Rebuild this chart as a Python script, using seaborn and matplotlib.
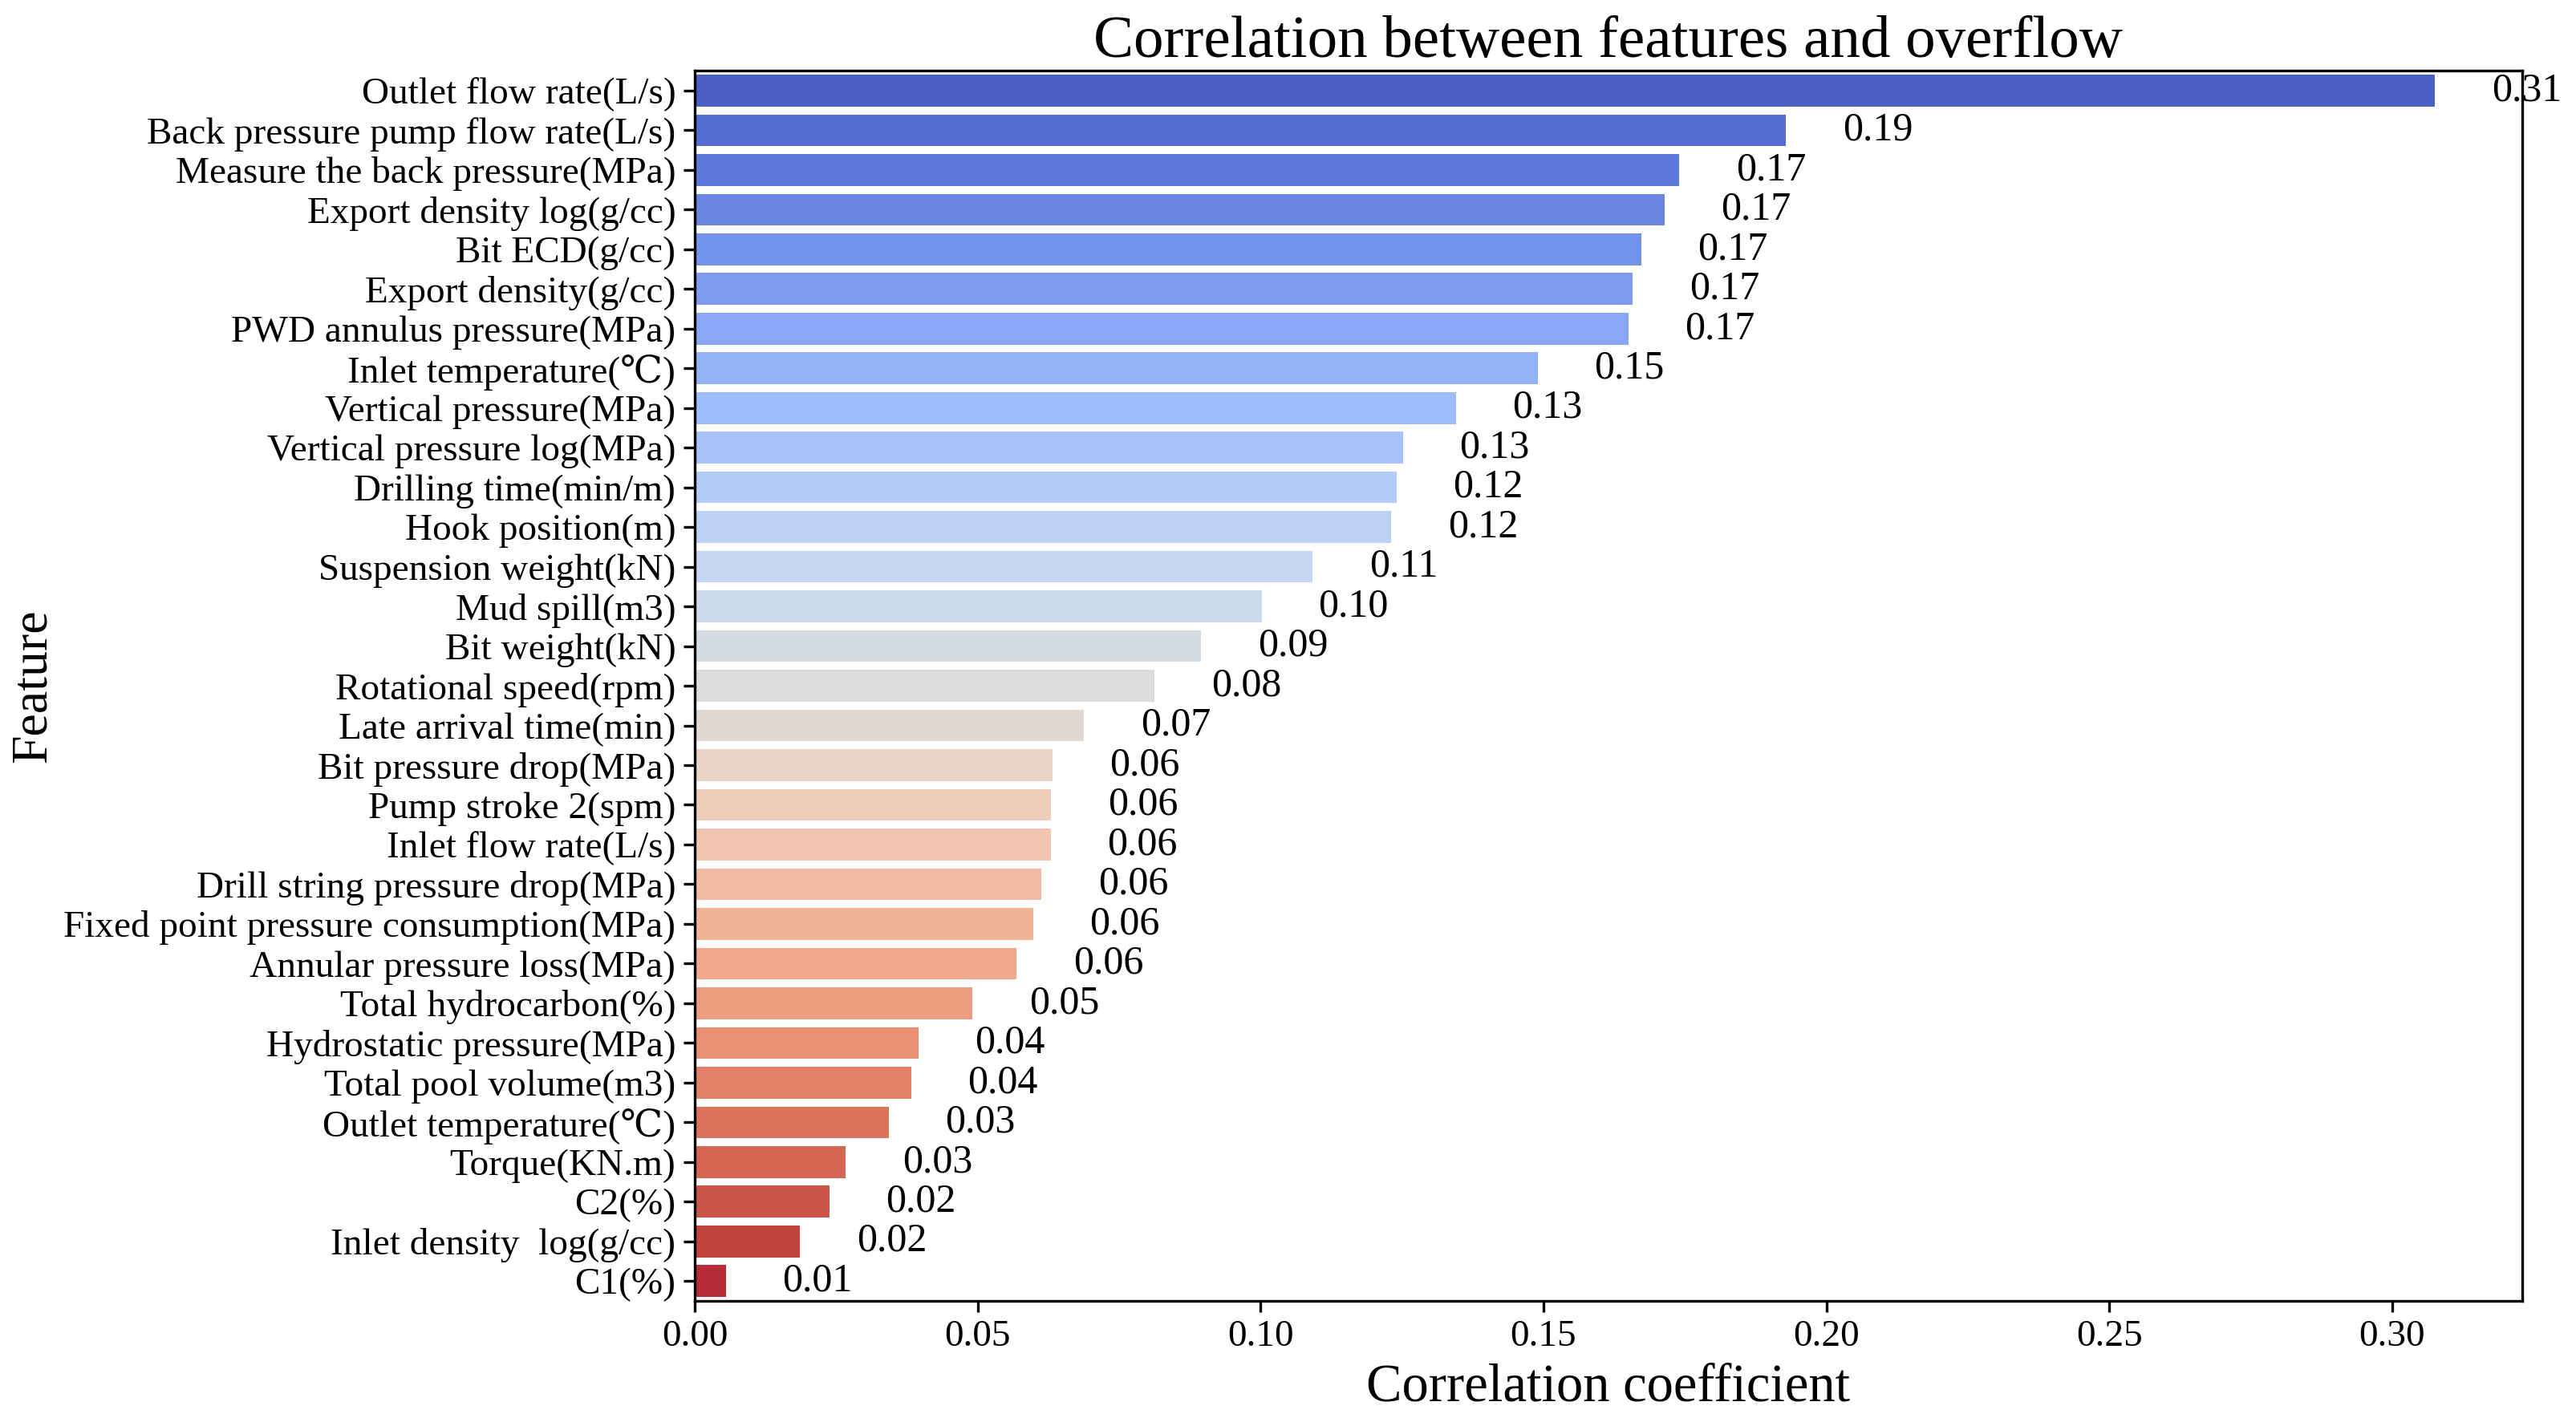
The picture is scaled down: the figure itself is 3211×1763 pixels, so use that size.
import matplotlib
matplotlib.use('Agg')
import matplotlib.pyplot as plt
import numpy as np
import pandas as pd
import seaborn as sns

features = ['Outlet flow rate(L/s)', 'Back pressure pump flow rate(L/s)',
            'Measure the back pressure(MPa)', 'Export density log(g/cc)',
            'Bit ECD(g/cc)', 'Export density(g/cc)', 'PWD annulus pressure(MPa)',
            'Inlet temperature(℃)', 'Vertical pressure(MPa)',
            'Vertical pressure log(MPa)', 'Drilling time(min/m)', 'Hook position(m)',
            'Suspension weight(kN)', 'Mud spill(m3)', 'Bit weight(kN)',
            'Rotational speed(rpm)', 'Late arrival time(min)',
            'Bit pressure drop(MPa)', 'Pump stroke 2(spm)', 'Inlet flow rate(L/s)',
            'Drill string pressure drop(MPa)',
            'Fixed point pressure consumption(MPa)', 'Annular pressure loss(MPa)',
            'Total hydrocarbon(%)', 'Hydrostatic pressure(MPa)',
            'Total pool volume(m3)', 'Outlet temperature(℃)', 'Torque(KN.m)',
            'C2(%)', 'Inlet density  log(g/cc)', 'C1(%)']
corr = [0.3076, 0.1929, 0.1740, 0.1714, 0.1673, 0.1658, 0.1650, 0.1490,
        0.1345, 0.1252, 0.1240, 0.1231, 0.1092, 0.1002, 0.0895, 0.0813,
        0.0688, 0.0633, 0.0630, 0.0629, 0.0613, 0.0598, 0.0569, 0.0491,
        0.0395, 0.0383, 0.0343, 0.0267, 0.0238, 0.0186, 0.0055]

df = pd.DataFrame({'Feature': features, 'Correlation coefficient': corr})

fonts = ['Liberation Serif', 'DejaVu Serif', 'Noto Sans CJK SC']
plt.rcParams['font.family'] = fonts

fig, ax = plt.subplots(figsize=(16.06, 8.815), dpi=200)
fig.subplots_adjust(left=0.2696, right=0.9788, bottom=0.080, top=0.950)

sns.barplot(x='Correlation coefficient', y='Feature', data=df, hue='Feature',
            palette='coolwarm', saturation=0.9, legend=False, ax=ax)

for i, v in enumerate(corr):
    ax.text(v + 0.01, i, '%.2f' % v, va='center', ha='left', fontsize=18)

ax.set_xlim(0, max(corr) * 1.05)
ax.set_title('Correlation between features and overflow', fontsize=27)
ax.set_xlabel('Correlation coefficient', fontsize=24)
ax.set_ylabel('Feature', fontsize=23)
ax.yaxis.set_label_coords(-0.349, 0.5)
ax.tick_params(axis='both', labelsize=17, length=5, width=1.2)
for sp in ax.spines.values():
    sp.set_linewidth(1.2)

plt.savefig('out.png', dpi=200)
